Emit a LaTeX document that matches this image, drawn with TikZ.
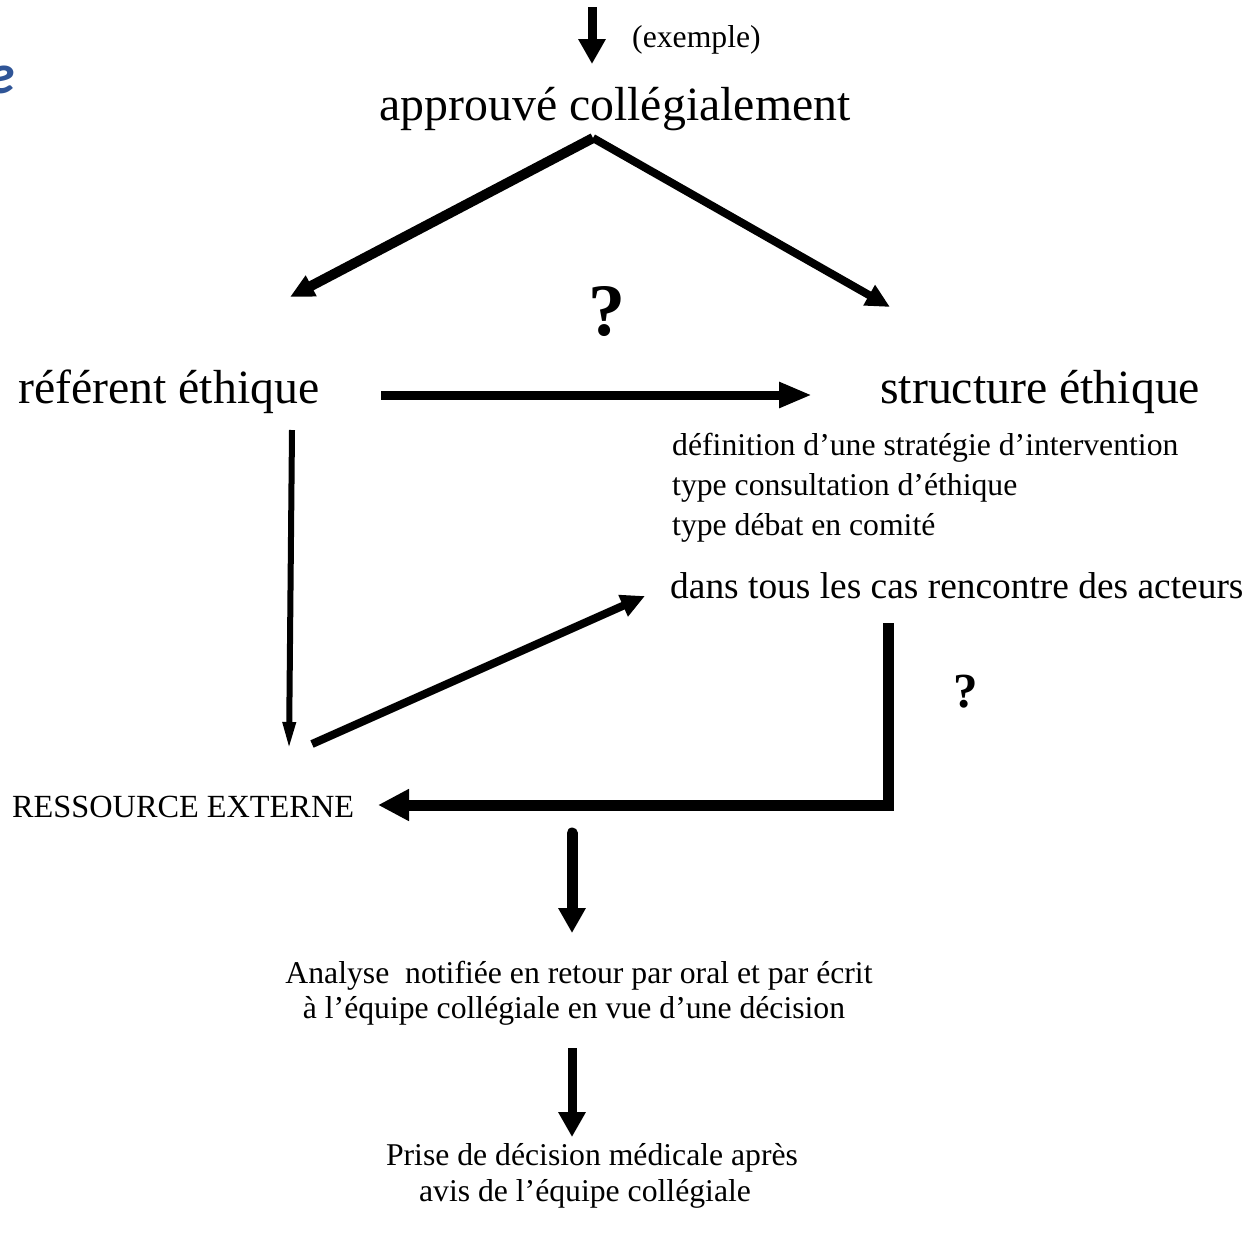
\documentclass[tikz,border=0pt]{standalone}
\usepackage{fontspec}
\setmainfont{Liberation Serif}
\newfontfamily\califont{Carlito}
\usepackage{xcolor}
\usetikzlibrary{arrows.meta}
\definecolor{titleblue}{HTML}{2F5597}
\tikzset{%
  tipA/.tip={Triangle[length=25pt,width=26pt]},
  tipB/.tip={Triangle[length=33pt,width=24pt]},
  tipC/.tip={Triangle[length=28pt,width=12pt]},
  tipD/.tip={Triangle[length=24pt,width=22pt]},
  tipE/.tip={Triangle[length=31pt,width=30pt]},
  bigtxt/.style={font=\fontsize{47.8}{54}\selectfont, inner sep=0},
  midtxt/.style={font=\fontsize{37.4}{42}\selectfont, inner sep=0},
  smalltxt/.style={font=\fontsize{31.7}{36}\selectfont, inner sep=0}
}

\begin{document}
\begin{tikzpicture}[x=1pt,y=-1pt]
\useasboundingbox (0,0) rectangle (1250,1240);
\node[anchor=base east, text=titleblue, inner sep=0, font=\califont\fontsize{56}{60}\selectfont\bfseries\itshape] (cut) at (15,93) {e};
\node[smalltxt, anchor=base west] (ex) at (632,47) {(exemple)};
\node[bigtxt, anchor=base] (app) at (615,120) {approuvé collégialement};
\node[inner sep=0, anchor=base, font=\fontsize{74}{76}\selectfont\bfseries] (q1) at (607,335) {?};
\node[bigtxt, anchor=base west] (ref) at (18,403) {référent éthique};
\node[bigtxt, anchor=base west] (str) at (880,403) {structure éthique};
\node[smalltxt, anchor=base west] (def) at (672,455) {définition d’une stratégie d’intervention};
\node[smalltxt, anchor=base west] (cons) at (672,495) {type consultation d’éthique};
\node[smalltxt, anchor=base west] (deb) at (672,535) {type débat en comité};
\node[midtxt, anchor=base west] (ren) at (670,598) {dans tous les cas rencontre des acteurs};
\node[inner sep=0, anchor=base, font=\fontsize{49}{50}\selectfont\bfseries] (q2) at (966,707) {?};
\node[smalltxt, anchor=base west, font=\fontsize{32.3}{36}\selectfont] (res) at (12,817) {RESSOURCE EXTERNE};
\node[smalltxt, anchor=base] (ana) at (579,983) {Analyse\ \ notifiée en retour par oral et par écrit};
\node[smalltxt, anchor=base] (ana2) at (574,1018) {à l’équipe collégiale en vue d’une décision};
\node[smalltxt, anchor=base] (pri) at (592,1165) {Prise de décision médicale après};
\node[smalltxt, anchor=base] (pri2) at (585,1201) {avis de l’équipe collégiale};
% arrow ends
\coordinate (in) at (592,7);
\coordinate (inTip) at (592,64);
\coordinate (apex) at (593,138);
\coordinate (refTip) at (290,297);
\coordinate (strTip) at (890,307);
\coordinate (hStart) at (381,395);
\coordinate (hTip) at (812,395);
\coordinate (vTop) at (292,430);
\coordinate (vTip) at (289,750);
\coordinate (dStart) at (312,744);
\coordinate (dTip) at (645,596);
\coordinate (lTop) at (888,623);
\coordinate (lCorner) at (888,805);
\coordinate (resTip) at (378,805);
\coordinate (a1) at (572,833);
\coordinate (a1Tip) at (572,933);
\coordinate (a2) at (572,1048);
\coordinate (a2Tip) at (572,1137);
\draw[line width=9pt, -tipA] (in) -- (inTip);
\draw[line width=10pt, -tipD] (apex) -- (refTip);
\draw[line width=8pt, -tipD] (apex) -- (strTip);
\draw[line width=9pt, -tipB] (hStart) -- (hTip);
\draw[line width=6pt, -tipC] (vTop) -- (vTip);
\draw[line width=8pt, -tipD] (dStart) -- (dTip);
\draw[line width=11pt, -tipE] (lTop) -- (lCorner) -- (resTip);
\draw[line width=11pt, line cap=round, -tipA] (a1) -- (a1Tip);
\draw[line width=9pt, -tipA] (a2) -- (a2Tip);
\end{tikzpicture}
\end{document}
